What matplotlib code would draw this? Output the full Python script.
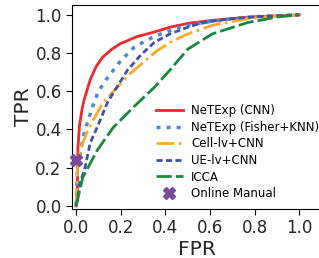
import matplotlib
matplotlib.use("Agg")
import matplotlib.pyplot as plt

# ROC curves
fpr_cnn = [0, 0.005, 0.008, 0.015, 0.027, 0.036, 0.05, 0.063, 0.09, 0.12, 0.16, 0.2, 0.27,
           0.35, 0.42, 0.5, 0.6, 0.7, 0.8, 0.9, 1.0]
tpr_cnn = [0, 0.05, 0.3, 0.42, 0.51, 0.555, 0.61, 0.66, 0.73, 0.78, 0.82, 0.85, 0.885,
           0.91, 0.935, 0.955, 0.97, 0.98, 0.99, 0.995, 1.0]

fpr_fisher = [0, 0.003, 0.005, 0.018, 0.04, 0.063, 0.077, 0.1, 0.14, 0.2, 0.26, 0.32,
              0.38, 0.45, 0.5, 0.6, 0.7, 0.8, 0.9, 1.0]
tpr_fisher = [0, 0.1, 0.17, 0.28, 0.40, 0.48, 0.53, 0.6, 0.67, 0.76, 0.83, 0.87,
              0.9, 0.93, 0.945, 0.965, 0.98, 0.99, 0.995, 1.0]

fpr_cell = [0, 0.003, 0.006, 0.015, 0.027, 0.05, 0.077, 0.12, 0.16, 0.2, 0.24, 0.29,
            0.36, 0.42, 0.5, 0.55, 0.61, 0.7, 0.77, 0.85, 1.0]
tpr_cell = [0, 0.1, 0.2, 0.27, 0.32, 0.39, 0.45, 0.54, 0.59, 0.64, 0.69, 0.74,
            0.81, 0.855, 0.9, 0.92, 0.945, 0.965, 0.98, 0.99, 1.0]

fpr_ue = [0, 0.005, 0.018, 0.04, 0.063, 0.094, 0.14, 0.166, 0.23, 0.29, 0.35, 0.42,
          0.5, 0.54, 0.6, 0.7, 0.8, 0.9, 1.0]
tpr_ue = [0, 0.03, 0.12, 0.2, 0.33, 0.41, 0.54, 0.59, 0.71, 0.79, 0.855, 0.9,
          0.935, 0.95, 0.965, 0.98, 0.99, 0.995, 1.0]

fpr_icca = [0, 0.03, 0.094, 0.166, 0.26, 0.35, 0.42, 0.5, 0.61, 0.77, 0.91, 1.0]
tpr_icca = [0, 0.15, 0.29, 0.41, 0.52, 0.62, 0.71, 0.82, 0.9, 0.96, 0.99, 1.0]

manual_fpr = [0.0]
manual_tpr = [0.24]

fig = plt.figure(figsize=(3.19, 2.58), dpi=100)
ax = fig.add_axes([0.226, 0.190, 0.784, 0.791])

ax.plot(fpr_cnn, tpr_cnn, "-", color="#ee2a2e", lw=2, label="NeTExp (CNN)")
ax.plot(fpr_fisher, tpr_fisher, color="#4b8bd4", lw=2.5, dashes=(1.15, 1.75),
        label="NeTExp (Fisher+KNN)")
ax.plot(fpr_cell, tpr_cell, "-.", color="#fca82a", lw=2, label="Cell-lv+CNN")
ax.plot(fpr_ue, tpr_ue, color="#3e51a6", lw=2, dashes=(2.2, 1.2), label="UE-lv+CNN")
ax.plot(fpr_icca, tpr_icca, color="#19873d", lw=2, dashes=(5.5, 1.5), label="ICCA")
ax.plot(manual_fpr, manual_tpr, "X", color="#7a4b9a", ms=9, ls="none",
        label="Online Manual", clip_on=False, zorder=5)

ax.set_xlim(-0.018, 1.103)
ax.set_ylim(-0.016, 1.052)
ticks = [0.0, 0.2, 0.4, 0.6, 0.8, 1.0]
ax.set_xticks(ticks)
ax.set_yticks(ticks)
ax.tick_params(labelsize=12, labelcolor="#262626", length=4)
ax.set_xlabel("FPR", fontsize=14.5, color="#262626", labelpad=2)
ax.set_ylabel("TPR", fontsize=14.5, color="#262626", labelpad=2)

ax.legend(loc="center left", bbox_to_anchor=(0.455, 0.41), bbox_transform=fig.transFigure,
          frameon=False, fontsize=8.5, handlelength=2.3, labelspacing=0.3,
          handletextpad=0.7)

fig.savefig("out.png", dpi=100)
